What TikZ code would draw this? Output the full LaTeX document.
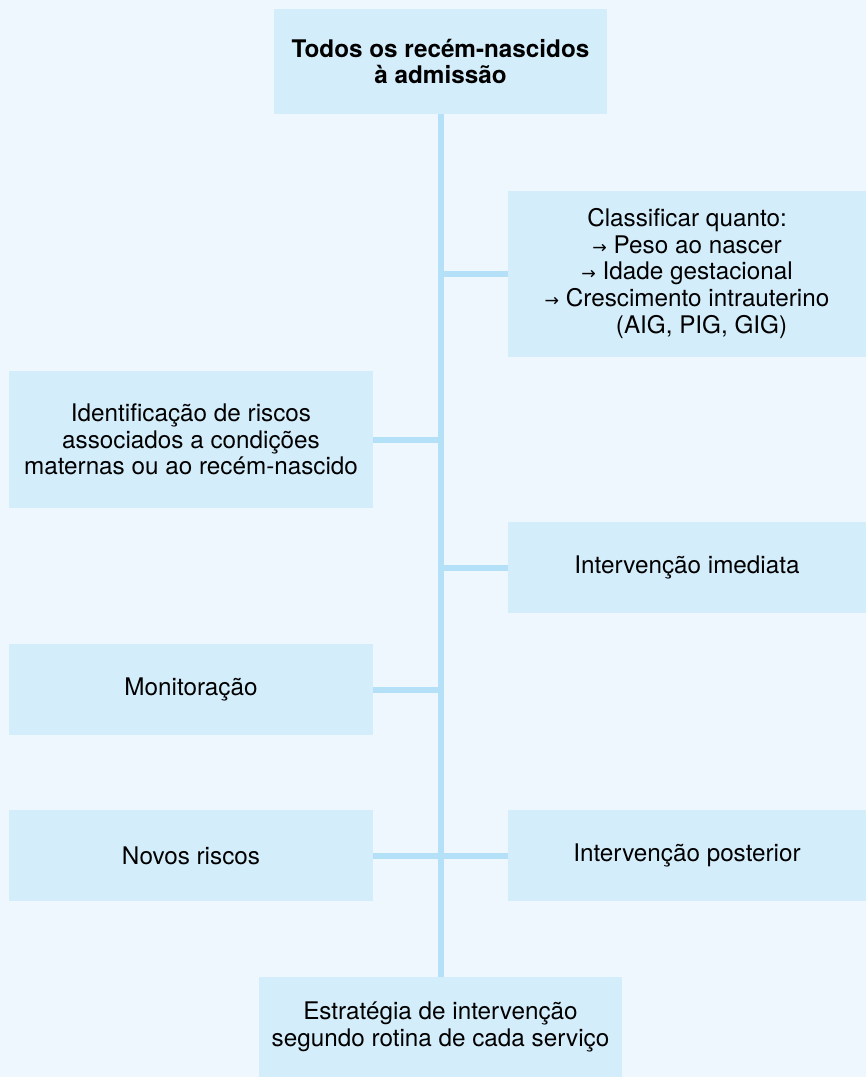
\documentclass[tikz,border=0pt]{standalone}
\usepackage{fontspec}
\setmainfont{TeX Gyre Heros}
\newfontfamily\arrowfont{DejaVu Sans}
\usetikzlibrary{positioning,calc}

\definecolor{pagebg}{HTML}{EEF7FD}
\definecolor{boxfill}{HTML}{D4EDFA}
\definecolor{linkblue}{HTML}{B4E1F8}

\newcommand{\seta}{{\arrowfont\fontsize{13}{15}\selectfont →}\ }

\tikzset{
  stepbox/.style={fill=boxfill, draw=none, align=center, inner sep=0pt,
    font=\fontsize{18.2}{20}\selectfont},
  link/.style={draw=linkblue, line width=4.5pt}
}

\begin{document}
\begin{tikzpicture}[x=0.75pt,y=-0.75pt]
      \fill[pagebg] (0,0) rectangle (866,1077);
      \useasboundingbox (0,0) rectangle (866,1077);

      % trunk boxes
      \node[stepbox, minimum width=249.75pt, minimum height=78.75pt,
        font=\fontsize{18.2}{20}\selectfont\bfseries] (todos) at (440.5,61.5)
        {Todos os recém-nascidos\\à admissão};
      \node[stepbox, minimum width=272.25pt, minimum height=75pt] (estrategia) at (440.5,1027)
        {Estratégia de intervenção\\segundo rotina de cada serviço};

      % right column
      \node[stepbox, minimum width=268.5pt, minimum height=124.5pt] (classificar) at (687,273.5)
        {Classificar quanto:\\\seta Peso ao nascer\\\seta Idade gestacional\\\seta Crescimento intrauterino\\\hspace{1.2em}(AIG, PIG, GIG)};
      \node[stepbox, minimum width=268.5pt, minimum height=68.25pt] (imediata) at (687,567.5)
        {Intervenção imediata};
      \node[stepbox, minimum width=268.5pt, minimum height=68.25pt] (posterior) at (687,855.5)
        {Intervenção posterior};

      % left column
      \node[stepbox, minimum width=273pt, minimum height=102.75pt] (riscos) at (191,439.5)
        {Identificação de riscos\\associados a condições\\maternas ou ao recém-nascido};
      \node[stepbox, minimum width=273pt, minimum height=68.25pt] (monit) at (191,689.5)
        {Monitoração};
      \node[stepbox, minimum width=273pt, minimum height=68.25pt] (novos) at (191,855.5)
        {Novos riscos};

      % connectors
      \draw[link] (todos.south) -- (estrategia.north);
      \draw[link] (classificar.west) -- (classificar.west -| todos.south);
      \draw[link] (imediata.west) -- (imediata.west -| todos.south);
      \draw[link] (posterior.west) -- (novos.east);
      \draw[link] (riscos.east) -- (riscos.east -| todos.south);
      \draw[link] (monit.east) -- (monit.east -| todos.south);
    \end{tikzpicture}
\end{document}
